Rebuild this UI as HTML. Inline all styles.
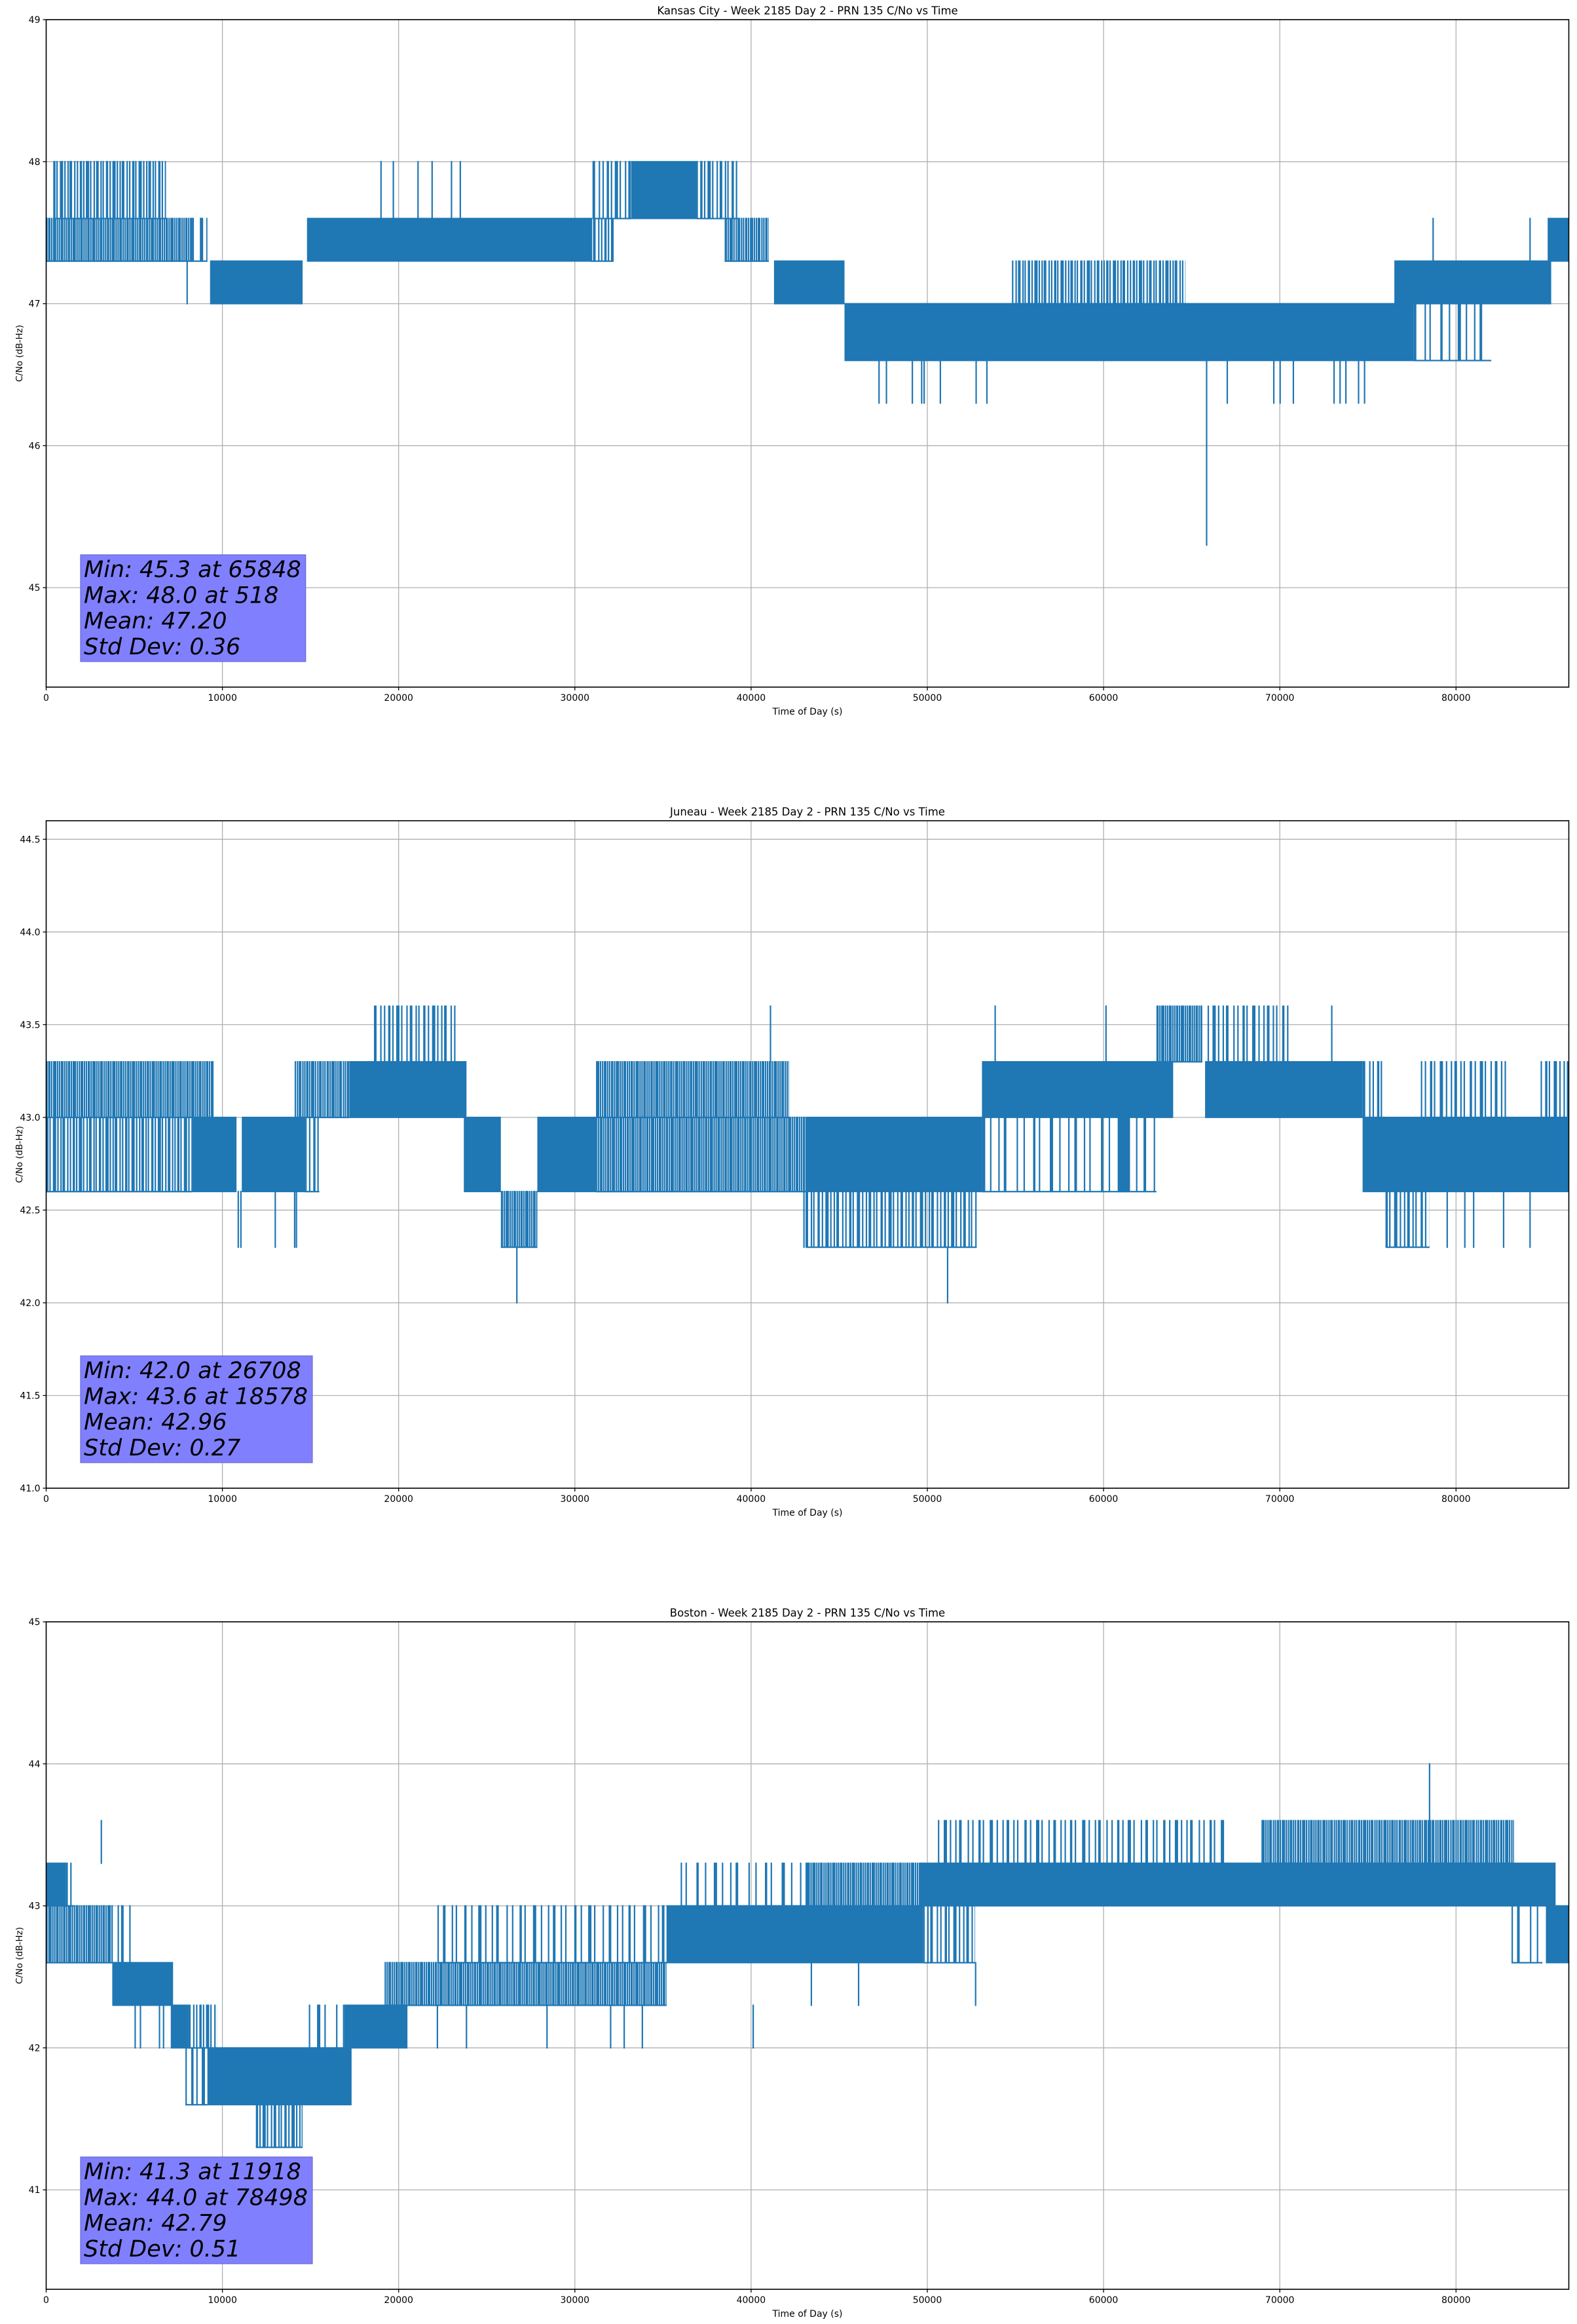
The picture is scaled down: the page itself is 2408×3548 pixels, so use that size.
<!DOCTYPE html>
<html><head><meta charset="utf-8">
<style>
html,body{margin:0;padding:0;background:#fff;}
svg{display:block;font-family:"DejaVu Sans","Liberation Sans",sans-serif;}
</style></head>
<body>
<svg id="fig" xmlns="http://www.w3.org/2000/svg" width="2408" height="3548" viewBox="0 0 2408 3548">
<rect x="0" y="0" width="2408" height="3548" fill="#fff"/>
</svg>
<script>
// ---------- shared axis data ----------
const xTickValues = [0,10000,20000,30000,40000,50000,60000,70000,80000];
const xTickLabels = ["0","10000","20000","30000","40000","50000","60000","70000","80000"];
const xMin = 0, xMax = 86400;

// ---------- Kansas City ----------
const kcTitle = "Kansas City - Week 2185 Day 2 - PRN 135 C/No vs Time";
const kcYTicks = [45,46,47,48,49];
const kcYTickLabels = ["45","46","47","48","49"];
const kcYRange = [44.3,49];
const kcSegStart = [0,400,8300,9300,14800,30900,31000,33200,36900,38500,41300,45300,54800,76500,77600,85200];
const kcSegEnd   = [8300,6800,9150,14550,30900,32200,33200,36900,39300,41000,45300,77600,64650,85400,82000,86400];
const kcSegLo    = [47.3,47.6,47.3,47.0,47.3,47.3,47.6,47.6,47.6,47.3,47.0,46.6,47.0,47.0,46.6,47.3];
const kcSegHi    = [47.6,48.0,47.6,47.3,47.6,47.6,48.0,48.0,48.0,47.6,47.3,47.0,47.3,47.3,47.0,47.6];
const kcSegDensity = [0.85,0.55,0.3,0.92,0.97,0.5,0.4,0.92,0.45,0.75,0.92,0.93,0.55,0.92,0.2,0.92];
const kcSpikeT  = [8000,19000,19700,21100,21900,23000,23500,47260,47680,49150,49680,49820,50740,52770,53380,65848,67020,69660,70020,70770,73080,73420,73750,74470,74810,78700,84200];
const kcSpikeLo = [47.0,47.6,47.6,47.6,47.6,47.6,47.6,46.3,46.3,46.3,46.3,46.3,46.3,46.3,46.3,45.3,46.3,46.3,46.3,46.3,46.3,46.3,46.3,46.3,46.3,47.3,47.3];
const kcSpikeHi = [47.3,48.0,48.0,48.0,48.0,48.0,48.0,46.6,46.6,46.6,46.6,46.6,46.6,46.6,46.6,46.6,46.6,46.6,46.6,46.6,46.6,46.6,46.6,46.6,46.6,47.6,47.6];
const kcStats = ["Min: 45.3 at 65848","Max: 48.0 at 518","Mean: 47.20","Std Dev: 0.36"];

// ---------- Juneau ----------
const jnTitle = "Juneau - Week 2185 Day 2 - PRN 135 C/No vs Time";
const jnYTicks = [41.0,41.5,42.0,42.5,43.0,43.5,44.0,44.5];
const jnYTickLabels = ["41.0","41.5","42.0","42.5","43.0","43.5","44.0","44.5"];
const jnYRange = [41.0,44.6];
const jnSegStart = [0,0,8300,11100,14100,17200,18600,14700,23700,25800,27870,31200,31200,43090,43090,53100,65760,63000,65900,53100,60800,74700,74700,78000,84800,76000];
const jnSegEnd   = [9500,8300,10800,14700,17200,23850,23300,15500,25800,27870,31200,42150,43090,53100,52800,63950,74700,65600,70500,63000,61500,86400,76000,83000,86400,78500];
const jnSegLo    = [43.0,42.6,42.6,42.6,43.0,43.0,43.3,42.6,42.6,42.3,42.6,43.0,42.6,42.6,42.3,43.0,43.0,43.3,43.3,42.6,42.6,42.6,43.0,43.0,43.0,42.3];
const jnSegHi    = [43.3,43.0,43.0,43.0,43.3,43.3,43.6,43.0,43.0,42.6,43.0,43.3,43.0,43.0,42.6,43.3,43.3,43.6,43.6,43.0,43.0,43.0,43.3,43.3,43.3,42.6];
const jnSegDensity = [0.8,0.55,0.92,0.95,0.75,0.95,0.4,0.4,0.95,0.85,0.92,0.8,0.85,0.95,0.45,0.95,0.93,0.85,0.35,0.2,0.92,0.95,0.4,0.35,0.4,0.4];
const jnSpikeT  = [10900,11050,13000,14100,14200,26708,41100,43000,51150,53850,60140,72950,79500,80500,81000,82700,84200];
const jnSpikeLo = [42.3,42.3,42.3,42.3,42.3,42.0,43.3,42.3,42.0,43.3,43.3,43.3,42.3,42.3,42.3,42.3,42.3];
const jnSpikeHi = [42.6,42.6,42.6,42.6,42.6,42.3,43.6,42.6,42.3,43.6,43.6,43.6,42.6,42.6,42.6,42.6,42.6];
const jnStats = ["Min: 42.0 at 26708","Max: 43.6 at 18578","Mean: 42.96","Std Dev: 0.27"];

// ---------- Boston ----------
const boTitle = "Boston - Week 2185 Day 2 - PRN 135 C/No vs Time";
const boYTicks = [41,42,43,44,45];
const boYTickLabels = ["41","42","43","44","45"];
const boYRange = [40.3,45];
const boSegStart = [0,1100,0,3750,3700,7070,8050,9150,7900,11900,14900,16900,19200,22200,35200,36000,43090,49600,50600,68960,49770,83150,85100];
const boSegEnd   = [1100,1600,3700,7200,4900,8050,9700,17330,9150,14550,16900,20500,35200,35200,49770,43500,49770,85650,67000,83290,52700,84900,86400];
const boSegLo    = [43.0,43.0,42.6,42.3,42.6,42.0,42.0,41.6,41.6,41.3,42.0,42.0,42.3,42.6,42.6,43.0,43.0,43.0,43.3,43.3,42.6,42.6,42.6];
const boSegHi    = [43.3,43.3,43.0,42.6,43.0,42.3,42.3,42.0,42.0,41.6,42.3,42.3,42.6,43.0,43.0,43.3,43.3,43.3,43.6,43.6,43.0,43.0,43.0];
const boSegDensity = [0.9,0.3,0.8,0.92,0.3,0.92,0.5,0.92,0.3,0.5,0.2,0.92,0.88,0.25,0.93,0.2,0.8,0.95,0.3,0.75,0.4,0.2,0.95];
const boSpikeT  = [3130,5050,5350,6430,6660,22200,23850,28420,32030,32800,33830,40120,43420,46100,52740,78498];
const boSpikeLo = [43.3,42.0,42.0,42.0,42.0,42.0,42.0,42.0,42.0,42.0,42.0,42.0,42.3,42.3,42.3,43.3];
const boSpikeHi = [43.6,42.3,42.3,42.3,42.3,42.3,42.3,42.3,42.3,42.3,42.3,42.3,42.6,42.6,42.6,44.0];
const boStats = ["Min: 41.3 at 11918","Max: 44.0 at 78498","Mean: 42.79","Std Dev: 0.51"];

// ---------- drawing ----------
const NS = "http://www.w3.org/2000/svg";
const svg = document.getElementById("fig");
const L = 70.5, R = 2395.5;
const BLUE = "#1f77b4";
const stripeGapCycle = [1.0, 0.6, 1.5, 0.8, 1.2, 0.5, 1.4, 0.9, 1.1, 0.7];
const stripeWidthCycle = [2.2, 3.5, 2.2, 5, 2.2, 2.2, 4, 2.2];
function xs(t){ return L + (t - xMin) / (xMax - xMin) * (R - L); }
function mk(tag, attrs, parent){
  const e = document.createElementNS(NS, tag);
  for (const k in attrs) e.setAttribute(k, attrs[k]);
  (parent || svg).appendChild(e);
  return e;
}

function drawPanel(key, top, bottom, title, yTicks, yTickLabels, yRange, sS, sE, sLo, sHi, sD, pT, pLo, pHi, stats){
  const g = mk("g", {});
  
  
  const ys = v => bottom - (v - yRange[0]) / (yRange[1] - yRange[0]) * (bottom - top);

  xTickValues.forEach(v => {
    const ln = mk("line", {x1:xs(v), x2:xs(v), y1:top, y2:bottom, stroke:"#b0b0b0", "stroke-width":1.3}, g);
    
    
  });
  yTicks.forEach(v => {
    const ln = mk("line", {x1:L, x2:R, y1:ys(v), y2:ys(v), stroke:"#b0b0b0", "stroke-width":1.3}, g);
    
    
  });

  const sg = mk("g", {fill:BLUE, stroke:"none"}, g);
  
  
  for (let i = 0; i < sS.length; i++){
    const x0 = xs(sS[i]), x1 = xs(sE[i]);
    const y0 = ys(sHi[i]), y1 = ys(sLo[i]);
    if (sD[i] >= 0.9){
      const r = mk("rect", {x:x0, y:y0 - 1, width:Math.max(1, x1 - x0), height:(y1 - y0) + 2}, sg);
      
      
    } else {
      let d = "";
      const baseStep = 2.6 / sD[i];
      let k = i;
      for (let p = x0; p < x1; ){
        const w = Math.min(stripeWidthCycle[k % stripeWidthCycle.length], x1 - p);
        d += "M" + p.toFixed(1) + " " + (y0 - 1).toFixed(1) + "h" + w.toFixed(1) + "V" + (y1 + 1).toFixed(1) + "h-" + w.toFixed(1) + "Z";
        p += w + Math.max(0.8, (baseStep - 2.6) * stripeGapCycle[k % stripeGapCycle.length]) ;
        k++;
      }
      const pa = mk("path", {d:d}, sg);
      
      
      const b1 = mk("rect", {x:x0, y:y1 - 1, width:Math.max(1, x1 - x0), height:2.2}, sg);
      
      
    }
  }
  for (let i = 0; i < pT.length; i++){
    const r = mk("rect", {x:xs(pT[i]) - 1.1, y:ys(pHi[i]) - 1, width:2.2, height:ys(pLo[i]) - ys(pHi[i]) + 2}, sg);
    
    
  }

  const fr = mk("rect", {x:L, y:top, width:R - L, height:bottom - top, fill:"none", stroke:"#000", "stroke-width":1.6}, g);
  
  

  xTickValues.forEach((v, i) => {
    const tk = mk("line", {x1:xs(v), x2:xs(v), y1:bottom, y2:bottom + 5, stroke:"#000", "stroke-width":1.3}, g);
    
    
    const tx = mk("text", {x:xs(v), y:bottom + 21, "text-anchor":"middle", "font-size":14, fill:"#000"}, g);
    tx.textContent = xTickLabels[i];
    
    
  });
  yTicks.forEach((v, i) => {
    const tk = mk("line", {x1:L - 5, x2:L, y1:ys(v), y2:ys(v), stroke:"#000", "stroke-width":1.3}, g);
    
    
    const tx = mk("text", {x:L - 9, y:ys(v) + 5, "text-anchor":"end", "font-size":14, fill:"#000"}, g);
    tx.textContent = yTickLabels[i];
    
    
  });

  const tt = mk("text", {x:(L + R) / 2, y:top - 8, "text-anchor":"middle", "font-size":16.5, fill:"#000"}, g);
  tt.textContent = title;
  
  
  const xl = mk("text", {x:(L + R) / 2, y:bottom + 42, "text-anchor":"middle", "font-size":14, fill:"#000"}, g);
  xl.textContent = "Time of Day (s)";
  
  
  const cy = (top + bottom) / 2;
  const yl = mk("text", {x:0, y:0, "text-anchor":"middle", "font-size":13.5, fill:"#000", transform:"translate(34," + cy + ") rotate(-90)"}, g);
  yl.textContent = "C/No (dB-Hz)";
  
  

  const sb = mk("g", {}, g);
  
  
  const bx = mk("rect", {x:123, y:top + 817, width:340, height:163, fill:"#8080ff", stroke:"#6a6ad0", "stroke-width":1.2}, sb);
  
  
  let maxW = 0;
  stats.forEach((s, i) => {
    const t = mk("text", {x:128, y:top + 851 + i * 39.3, "font-size":35, "font-style":"italic", fill:"#000"}, sb);
    t.textContent = s;
    
    
    try { maxW = Math.max(maxW, t.getComputedTextLength()); } catch(e){}
  });
  if (maxW > 0) bx.setAttribute("width", maxW + 12);
}

drawPanel("kansas-city", 30, 1049, kcTitle, kcYTicks, kcYTickLabels, kcYRange, kcSegStart, kcSegEnd, kcSegLo, kcSegHi, kcSegDensity, kcSpikeT, kcSpikeLo, kcSpikeHi, kcStats);
drawPanel("juneau", 1253, 2272, jnTitle, jnYTicks, jnYTickLabels, jnYRange, jnSegStart, jnSegEnd, jnSegLo, jnSegHi, jnSegDensity, jnSpikeT, jnSpikeLo, jnSpikeHi, jnStats);
drawPanel("boston", 2476, 3495, boTitle, boYTicks, boYTickLabels, boYRange, boSegStart, boSegEnd, boSegLo, boSegHi, boSegDensity, boSpikeT, boSpikeLo, boSpikeHi, boStats);
</script>
</body></html>
